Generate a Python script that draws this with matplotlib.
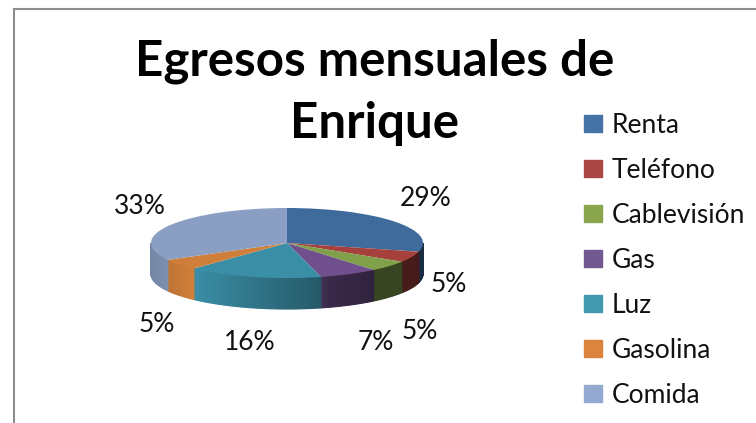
import numpy as np
import matplotlib
matplotlib.use("Agg")
import matplotlib.pyplot as plt
from matplotlib.colors import to_rgb
from matplotlib.lines import Line2D

categorias = ["Renta", "Teléfono", "Cablevisión", "Gas", "Luz", "Gasolina", "Comida"]
valores = [29, 5, 5, 7, 16, 5, 33]
etiquetas = ["29%", "5%", "5%", "7%", "16%", "5%", "33%"]
colores_leyenda = ["#4573a7", "#aa4643", "#89a54e", "#71588f", "#4198af", "#db843d", "#93a9cf"]
colores_tapa = ["#3f6a9c", "#a5403c", "#80a04a", "#6f4f8c", "#3a8ea6", "#d07f3a", "#8a9fc3"]
pos_etiquetas = [(426, 198), (449, 284), (420, 331), (376, 342), (250, 342), (157, 324), (140, 207)]

W, H = 756, 423
plt.rcParams["font.family"] = ["Lato", "DejaVu Sans"]
fig = plt.figure(figsize=(W / 100, H / 100), dpi=100)

# ejes del mismo tamano que la elipse de arriba, el pie queda aplastado
cx, cy, a, b = 287, 243, 136, 35
ax = fig.add_axes([(cx - a) / W, 1 - (cy + b) / H, 2 * a / W, 2 * b / H])

wedges, _ = ax.pie(valores, colors=colores_tapa, startangle=90, counterclock=False,
                   radius=1, wedgeprops={"linewidth": 0, "zorder": 5})
ax.set_aspect("auto")
ax.set_xlim(-1, 1)
ax.set_ylim(-1, 1)
for w in wedges:
    w.set_clip_on(False)

# pared lateral del pie, sombreada segun la posicion horizontal
alto = 31 / b
acum = np.cumsum([0] + valores) / sum(valores) * 2 * np.pi
for i in range(len(valores)):
    ang = np.linspace(acum[i], acum[i + 1], int(valores[i] * 3) + 2)
    base = np.array(to_rgb(colores_tapa[i]))
    for t0, t1 in zip(ang[:-1], ang[1:]):
        if np.cos((t0 + t1) / 2) > 0:
            continue
        x0, x1 = np.sin(t0), np.sin(t1)
        y0, y1 = np.cos(t0), np.cos(t1)
        sombra = np.interp((x0 + x1) / 2, [-1, -0.7, 0.25, 0.3, 0.65, 1],
                           [0.85, 1.0, 0.63, 0.52, 0.43, 0.42])
        ax.fill([x0, x1, x1, x0], [y0, y1, y1 - alto, y0 - alto],
                color=base * sombra, linewidth=0.8, clip_on=False, zorder=2)

for txt, (x, y) in zip(etiquetas, pos_etiquetas):
    fig.text(x / W, 1 - y / H, txt, fontsize=19, color="#111111", ha="center", va="center")

fig.text(375 / W, 1 - 61 / H, "Egresos mensuales de", fontsize=35.5, fontweight="bold",
         color="black", ha="center", va="center")
fig.text(375 / W, 1 - 123 / H, "Enrique", fontsize=35.5, fontweight="bold",
         color="black", ha="center", va="center")

handles = [plt.Rectangle((0, 0), 1, 1, color=c) for c in colores_leyenda]
fig.legend(handles, categorias, loc="upper left", bbox_to_anchor=(584 / W, 1 - 113 / H),
           frameon=False, fontsize=19, handlelength=0.68, handleheight=0.6,
           handletextpad=0.38, labelspacing=0.755, borderpad=0, borderaxespad=0,
           labelcolor="#111111")

fig.add_artist(Line2D([13.5 / W, 1], [1 - 9.5 / H, 1 - 9.5 / H], color="#8c8c8c", lw=1.5))
fig.add_artist(Line2D([13.5 / W, 13.5 / W], [0, 1 - 9.5 / H], color="#8c8c8c", lw=1.5))

fig.savefig("out.png", dpi=100)
